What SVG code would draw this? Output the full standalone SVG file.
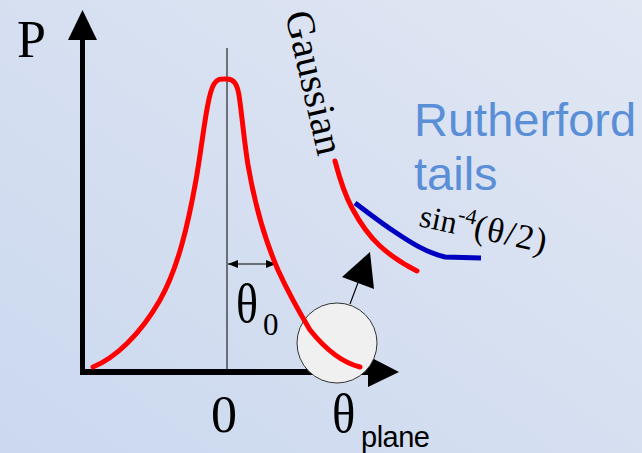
<svg xmlns="http://www.w3.org/2000/svg" width="642" height="453" viewBox="0 0 642 453">
<defs>
<linearGradient id="bg" x1="0" y1="1" x2="1" y2="0">
<stop offset="0" stop-color="#cbd8ef"/>
<stop offset="1" stop-color="#e1e7f3"/>
</linearGradient>
<marker id="dim" viewBox="0 0 10 10" refX="10" refY="5" markerWidth="10" markerHeight="10" markerUnits="userSpaceOnUse" orient="auto-start-reverse">
<path d="M0,1 L10,5 L0,9 Z" fill="#000"/>
</marker>
</defs>
<style>
.serif{font-family:"Liberation Serif","Times New Roman",serif;fill:#000}
.sans{font-family:"Liberation Sans",Arial,sans-serif}
.red{fill:none;stroke:#ff0000;stroke-width:5;stroke-linecap:round;stroke-linejoin:round}
.blue{fill:none;stroke:#0000c0;stroke-width:5;stroke-linecap:butt}
.thin{stroke:#000;stroke-width:1;fill:none}
</style>
<rect width="642" height="453" fill="url(#bg)"/>
<g id="axes">
<line x1="82.5" y1="372" x2="82.5" y2="38" stroke="#000" stroke-width="5"/>
<polygon points="82.5,10 68,40 97,40" fill="#000"/>
<line x1="80" y1="372" x2="370" y2="372" stroke="#000" stroke-width="6"/>
<polygon points="399,372 368,356 368,387" fill="#000"/>
</g>
<g id="connectors">
<line class="thin" x1="227" y1="48" x2="227" y2="372"/>
<line class="thin" x1="228" y1="264" x2="276" y2="264" marker-start="url(#dim)" marker-end="url(#dim)"/>
<line x1="350" y1="304" x2="362" y2="272" stroke="#000" stroke-width="1.2"/>
<polygon points="370,252 342,277 374,289" fill="#000"/>
</g>
<g id="circle">
<circle cx="337" cy="343" r="40" fill="#f0f0f0" stroke="#333" stroke-width="1"/>
</g>
<g id="gaussian-curve">
<path class="red" d="M93,367 C115,358 140,335 160,300 C178,268 188,225 196,180 C203,140 207,95 214,84 C218,78 222,79 227,79 C234,79 237,84 239,95 C242,115 244,140 248,165 C254,200 265,240 278,270 C288,292 298,310 310,330 C322,345 340,362 360,367"/>
</g>
<g id="tail-curves">
<path class="red" d="M335,161 C340,180 345,195 352,208 C360,223 368,235 380,246 C392,257 405,265 417,271"/>
<path class="blue" d="M355,203 C370,214 380,222 395,232 C410,242 425,252 445,257 L481,258"/>
</g>
<g id="labels">
<text class="serif" x="17" y="57" font-size="52">P</text>
<text class="serif" x="211" y="432" font-size="52">0</text>
<text class="serif" font-size="54" transform="translate(236,322) scale(0.85,1)">θ</text>
<text class="serif" x="263" y="335" font-size="31">0</text>
<text class="serif" font-size="54" transform="translate(332,432) scale(0.9,1)">θ</text>
<text class="sans" x="361" y="447" font-size="29" letter-spacing="-0.5" fill="#000">plane</text>
<text class="serif" font-size="40" transform="translate(285,14) rotate(77)">Gaussian</text>
<text class="sans" x="414" y="136" font-size="47" fill="#5a8fd8">Rutherford</text>
<text class="sans" x="414" y="190" font-size="47" fill="#5a8fd8">tails</text>
<text class="serif" font-size="32" transform="translate(418,226) rotate(12)">sin<tspan font-size="22" dy="-13">-4</tspan><tspan dy="13" font-size="35" letter-spacing="1.5">(θ/2)</tspan></text>
</g>
</svg>
